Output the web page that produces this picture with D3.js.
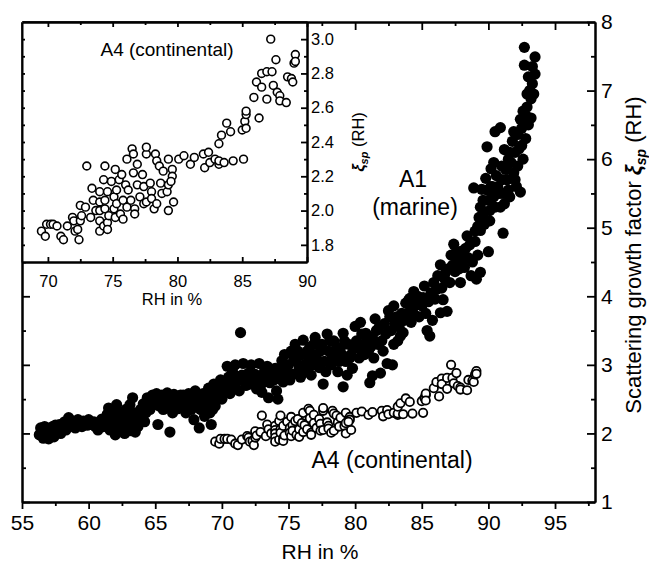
<!DOCTYPE html>
<html>
<head>
<meta charset="utf-8">
<script src="https://cdn.jsdelivr.net/npm/d3@7"></script>
<style>
body { margin: 0; background: #fff; }
text { font-family: "Liberation Sans", Arial, Helvetica, sans-serif; fill: #000; }
</style>
</head>
<body>
<script>
const w = 649
const h = 562

// A1 (marine): [RH in %, xi_sp(RH)]
const a1Points = [
	[56.3,1.98],[56.5,2.04],[56.6,1.93],[56.8,1.97],[56.9,2.07],[57.0,1.92],[57.1,2.0],[57.3,2.1],
	[57.4,1.95],[57.6,2.05],[57.8,2.13],[58.0,2.08],[58.2,2.17],[58.5,2.23],[58.7,2.11],[59.0,2.08],
	[59.3,2.15],[59.6,2.18],[59.9,2.12],[60.2,2.13],[60.5,2.1],[60.8,2.13],[61.0,2.21],[61.3,2.15],
	[61.5,2.37],[61.7,2.24],[61.9,2.1],[62.0,1.98],[62.1,2.42],[62.2,2.15],[62.4,2.3],[62.5,2.05],
	[62.6,2.2],[62.7,2.0],[62.9,2.27],[63.0,2.12],[63.1,2.42],[63.2,2.04],[63.3,2.52],[63.5,2.02],
	[63.7,2.1],[64.0,2.27],[64.1,2.43],[64.2,2.17],[64.5,2.46],[64.8,2.56],[65.0,2.5],[65.2,2.13],
	[65.3,2.4],[65.5,2.56],[65.7,2.46],[65.9,2.59],[66.1,2.02],[66.2,2.52],[66.4,2.57],[66.5,2.44],
	[66.7,2.36],[66.9,2.56],[67.0,2.49],[67.2,2.4],[67.4,2.5],[67.6,2.45],[67.8,2.55],[67.9,2.2],
	[68.0,2.62],[68.2,2.48],[68.3,2.08],[68.4,2.35],[68.6,2.58],[68.7,2.25],[68.8,2.45],[69.0,2.66],
	[69.1,2.3],[69.2,2.13],[69.3,2.52],[69.4,2.72],[69.5,2.4],[69.7,2.6],[69.9,2.78],[70.0,2.5],
	[70.2,2.7],[70.4,2.98],[70.5,2.82],[70.7,2.65],[70.8,2.9],[71.0,3.0],[71.1,2.75],[71.4,3.47],
	[71.5,2.85],[71.6,3.02],[71.8,2.7],[72.0,2.88],[72.2,3.0],[72.3,2.78],[72.5,2.86],[72.8,3.02],
	[73.0,2.8],[73.2,2.91],[73.4,2.98],[73.5,2.52],[73.6,2.74],[73.8,2.86],[74.0,2.95],[74.2,2.5],
	[74.3,2.8],[74.5,3.06],[74.7,3.15],[74.8,2.9],[75.0,3.0],[75.2,3.2],[75.3,2.86],[75.5,3.3],
	[75.6,3.05],[75.8,2.95],[76.0,3.15],[76.1,3.36],[76.3,2.9],[76.5,3.1],[76.6,3.26],[76.8,3.0],
	[77.0,3.4],[77.1,3.15],[77.3,2.96],[77.5,3.3],[77.6,2.72],[77.7,3.05],[77.9,3.45],[78.0,3.2],
	[78.2,3.0],[78.4,3.35],[78.5,3.1],[78.7,2.9],[78.9,3.25],[79.1,2.68],[79.1,3.46],[79.3,3.05],
	[79.5,3.3],[79.7,3.15],[79.8,2.95],[80.0,3.56],[80.1,3.35],[80.3,3.1],[80.4,3.62],[80.6,3.3],
	[80.8,3.46],[81.0,3.2],[81.1,2.74],[81.2,3.27],[81.3,2.84],[81.5,3.67],[81.6,3.5],[81.9,2.88],
	[82.0,3.35],[82.2,3.6],[82.4,3.02],[82.5,3.79],[82.6,3.7],[82.7,3.5],[82.8,3.0],[82.9,3.86],
	[83.0,3.6],[83.2,3.35],[83.4,3.42],[83.5,3.75],[83.6,3.47],[83.8,3.9],[84.0,3.94],[84.1,3.97],
	[84.2,3.62],[84.4,4.07],[84.5,3.72],[84.7,4.0],[85.0,3.86],[85.2,4.15],[85.4,3.5],[85.5,3.92],
	[85.6,3.42],[85.9,4.2],[86.0,3.96],[86.2,4.3],[86.4,3.76],[86.4,4.46],[86.5,4.12],[86.7,4.26],
	[86.9,3.78],[87.0,4.4],[87.2,4.6],[87.4,4.76],[87.5,4.36],[87.7,4.52],[87.9,4.2],[88.0,4.66],
	[88.2,4.42],[88.4,4.88],[88.5,4.56],[88.7,4.3],[88.9,5.58],[89.0,4.8],[89.1,4.25],[89.2,5.02],
	[89.4,4.35],[89.4,4.96],[89.4,5.3],[89.5,5.56],[89.6,5.2],[89.8,5.72],[89.9,6.18],[90.0,4.65],
	[90.0,5.4],[90.1,5.1],[90.2,5.86],[90.3,5.6],[90.5,5.3],[90.5,6.4],[90.6,5.76],[90.8,5.5],
	[90.9,6.46],[91.0,5.9],[91.1,4.92],[91.2,6.14],[91.2,5.35],[91.4,5.7],[91.5,6.0],[91.6,5.45],
	[91.8,6.26],[91.9,5.8],[92.0,6.1],[92.1,5.6],[92.2,6.36],[92.4,5.52],[92.4,6.58],[92.5,6.2],
	[92.6,6.0],[92.7,7.37],[92.7,7.63],[92.9,6.76],[93.0,6.5],[93.1,7.0],[93.2,6.88],[93.3,7.1],
	[93.5,7.24],[93.5,7.49],[92.9,6.62],
	[56.4,2.08],[56.7,2.1],[57.2,1.97],[57.5,2.12],[57.9,2.0],[58.3,2.05],[58.8,2.18],[59.2,2.2],
	[59.5,2.1],[60.0,2.2],[60.4,2.17],[60.7,2.05],[61.1,2.1],[61.4,2.28],[61.6,2.05],[61.8,2.35],
	[62.0,2.2],[62.3,2.25],[62.6,2.1],[62.8,2.35],[63.0,2.2],[63.4,2.3],[63.6,2.2],[63.9,2.35],
	[64.3,2.3],[64.6,2.35],[64.4,2.52],[64.9,2.42],[65.1,2.58],[65.4,2.47],[65.6,2.35],[66.0,2.42],
	[66.3,2.3],[66.6,2.5],[66.8,2.42],[67.1,2.56],[67.3,2.3],[67.5,2.58],[67.7,2.35],[68.1,2.4],
	[68.5,2.45],[68.9,2.55],[69.1,2.62],[69.6,2.5],[69.8,2.68],[69.3,2.35],[68.9,2.38],[70.1,2.6],
	[70.3,2.75],[70.6,2.58],[70.9,2.7],[71.2,2.82],[71.3,2.62],[71.7,2.78],[71.9,2.84],[72.1,2.72],
	[72.4,2.82],[72.7,2.76],[72.9,2.7],[73.1,2.75],[73.3,2.84],[73.7,2.9],[73.9,2.78],[74.1,2.88],
	[74.4,2.95],[74.6,2.75],[74.9,3.0],[74.1,2.62],[73.0,2.6],[72.6,2.65],[75.1,2.78],[75.4,3.1],
	[75.7,3.2],[75.9,2.82],[76.2,3.0],[76.4,3.2],[76.7,2.85],[76.9,3.3],[77.2,3.05],[77.4,3.2],
	[77.8,2.9],[78.1,3.35],[78.3,3.12],[78.6,3.25],[78.8,3.05],[79.0,3.15],[79.2,3.35],[79.4,2.85],
	[79.6,3.1],[79.9,3.25],[80.2,3.25],[80.5,3.45],[80.7,3.15],[80.9,3.35],[81.3,3.4],[81.4,3.1],
	[81.7,3.3],[81.8,3.55],[82.1,3.2],[82.3,3.45],[82.9,3.3],[83.1,3.7],[83.3,3.55],[83.7,3.65],
	[83.9,3.75],[84.3,3.8],[84.6,3.88],[84.8,3.7],[85.1,3.98],[85.3,3.75],[85.7,4.05],[85.8,3.65],
	[86.1,4.1],[86.6,3.95],[86.8,4.35],[87.1,4.2],[87.3,4.45],[87.6,4.65],[87.8,4.4],[88.1,4.55],
	[88.3,4.7],[88.6,4.75],[88.8,4.5],[89.0,4.95],[89.2,4.6],[89.3,5.15],[89.6,5.4],[89.7,5.05],
	[89.9,5.55],[90.1,5.25],[90.2,5.6],[90.4,5.45],[90.4,5.95],[90.7,5.6],[90.9,5.3],[91.0,5.7],
	[91.1,5.5],[91.3,5.85],[91.5,5.55],[91.6,6.1],[91.7,5.95],[91.9,6.4],[92.0,5.7],[92.2,5.9],
	[92.3,6.15],[92.5,6.45],[92.6,6.7],[92.8,6.3],[92.9,6.95],[93.0,7.2],[93.2,6.6],[93.3,7.35],
	[93.4,6.95]
]

// A4 (continental): [RH in %, xi_sp(RH)]
const a4Points = [
	[69.5,1.88],[69.8,1.85],[69.9,1.92],[70.2,1.92],[70.4,1.92],[70.7,1.91],[71.0,1.85],[71.2,1.83],
	[71.5,1.91],[71.9,1.96],[72.0,1.94],[72.1,1.88],[72.3,1.89],[72.4,1.83],[72.5,1.94],[72.5,2.03],
	[72.6,1.97],[72.9,2.02],[73.0,2.26],[73.3,1.96],[73.4,2.13],[73.5,2.06],[73.7,2.0],[74.0,2.11],
	[74.0,2.05],[74.0,2.0],[74.0,1.94],[74.0,1.88],[74.3,1.91],[74.3,2.18],[74.4,2.26],[74.4,2.06],
	[74.4,2.01],[74.6,2.11],[74.6,1.93],[74.6,1.89],[74.7,1.97],[74.9,2.17],[75.1,2.08],[75.1,2.01],
	[75.2,2.24],[75.2,1.96],[75.3,2.12],[75.3,2.04],[75.5,2.18],[75.6,1.98],[75.7,2.21],[75.8,2.06],
	[75.8,1.95],[76.0,2.15],[76.1,2.3],[76.1,2.02],[76.2,2.12],[76.4,2.06],[76.5,2.36],[76.6,2.33],
	[76.6,2.22],[76.7,2.01],[76.7,1.98],[76.9,2.27],[76.9,2.15],[77.1,2.08],[77.3,2.21],[77.4,2.14],
	[77.4,2.04],[77.6,2.33],[77.6,2.05],[77.6,2.37],[77.9,2.16],[78.0,2.11],[78.0,2.07],[78.2,2.01],
	[78.3,2.33],[78.4,2.29],[78.4,2.04],[78.6,2.26],[78.7,2.16],[78.8,2.1],[78.9,2.23],[79.2,2.11],
	[79.3,2.3],[79.3,2.15],[79.3,2.0],[79.6,2.24],[79.6,2.2],[79.5,2.17],[79.7,2.05],[80.1,2.3],
	[80.5,2.32],[81.0,2.27],[81.3,2.31],[82.0,2.33],[82.1,2.25],[82.4,2.34],[82.5,2.28],[82.9,2.3],
	[83.2,2.27],[83.2,2.29],[83.2,2.39],[83.4,2.44],[83.6,2.28],[83.8,2.51],[84.1,2.46],[84.3,2.29],
	[85.0,2.47],[85.1,2.3],[85.2,2.52],[85.3,2.56],[85.3,2.58],[85.3,2.48],[85.9,2.66],[86.1,2.75],
	[86.3,2.54],[86.5,2.8],[86.5,2.72],[86.9,2.81],[86.9,2.65],[87.2,3.0],[87.3,2.81],[87.4,2.73],
	[87.6,2.88],[87.7,2.69],[87.9,2.67],[87.9,2.64],[88.4,2.63],[88.5,2.78],[88.8,2.77],[88.9,2.75],
	[89.0,2.86],[89.1,2.91],[89.1,2.87]
]

const mainXTicks = [55, 60, 65, 70, 75, 80, 85, 90, 95]
const mainXMinor = [57.5, 62.5, 67.5, 72.5, 77.5, 82.5, 87.5, 92.5, 97.5]
const mainYTicks = [1, 2, 3, 4, 5, 6, 7, 8]
const mainYMinor = [1.5, 2.5, 3.5, 4.5, 5.5, 6.5, 7.5]
const insetXTicks = [70, 75, 80, 85, 90]
const insetXMinor = [72.5, 77.5, 82.5, 87.5]
const insetYTicks = [1.8, 2.0, 2.2, 2.4, 2.6, 2.8, 3.0]
const insetYMinor = [1.9, 2.1, 2.3, 2.5, 2.7, 2.9]

const svg = d3.select("body").append("svg")
	.attr("width", w)
	.attr("height", h)

let x = d3.scaleLinear().domain([55, 98]).range([22, 595])
let y = d3.scaleLinear().domain([1, 8]).range([502, 22])

// main scatter
svg.append("g").selectAll("circle")
	.data(a1Points)
	.join("circle")
	.attr("cx", d => x(d[0]))
	.attr("cy", d => y(d[1]))
	.attr("r", 5.6)
	.attr("fill", "black")

svg.append("g").selectAll("circle")
	.data(a4Points)
	.join("circle")
	.attr("cx", d => x(d[0]))
	.attr("cy", d => y(d[1]))
	.attr("r", 4.2)
	.attr("fill", "white")
	.attr("stroke", "black")
	.attr("stroke-width", 1.8)

let styleAxis = function(g, fontSize) {
	g.select(".domain").attr("stroke-width", 2)
	g.selectAll(".tick line").attr("stroke-width", 1.8)
	g.selectAll(".tick text")
		.attr("font-size", fontSize)
		.attr("font-family", "Liberation Sans, Arial, sans-serif")
}

// bottom axis (ticks outward)
svg.append("g")
	.attr("transform", "translate(0," + y.range()[0] + ")")
	.call(d3.axisBottom(x).tickValues(mainXMinor).tickSize(4).tickSizeOuter(0).tickFormat(""))
	.call(g => styleAxis(g, 21))
svg.append("g")
	.attr("transform", "translate(0," + y.range()[0] + ")")
	.call(d3.axisBottom(x).tickValues(mainXTicks).tickSize(7).tickSizeOuter(0).tickPadding(6).tickFormat(d3.format("d")))
	.call(g => styleAxis(g, 21))

// top axis (ticks inward)
svg.append("g")
	.attr("transform", "translate(0," + y.range()[1] + ")")
	.call(d3.axisBottom(x).tickValues(mainXMinor).tickSize(4).tickSizeOuter(0).tickFormat(""))
	.call(g => styleAxis(g, 21))
svg.append("g")
	.attr("transform", "translate(0," + y.range()[1] + ")")
	.call(d3.axisBottom(x).tickValues(mainXTicks).tickSize(8).tickSizeOuter(0).tickFormat(""))
	.call(g => styleAxis(g, 21))

// left axis (ticks inward, no labels)
svg.append("g")
	.attr("transform", "translate(" + x.range()[0] + ",0)")
	.call(d3.axisRight(y).tickValues(mainYMinor).tickSize(4).tickSizeOuter(0).tickFormat(""))
	.call(g => styleAxis(g, 21))
svg.append("g")
	.attr("transform", "translate(" + x.range()[0] + ",0)")
	.call(d3.axisRight(y).tickValues(mainYTicks).tickSize(8).tickSizeOuter(0).tickFormat(""))
	.call(g => styleAxis(g, 21))

// right axis (ticks inward, labels outside)
svg.append("g")
	.attr("transform", "translate(" + x.range()[1] + ",0)")
	.call(d3.axisLeft(y).tickValues(mainYMinor).tickSize(4).tickSizeOuter(0).tickFormat(""))
	.call(g => styleAxis(g, 21))
svg.append("g")
	.attr("transform", "translate(" + x.range()[1] + ",0)")
	.call(d3.axisLeft(y).tickValues(mainYTicks).tickSize(8).tickSizeOuter(0).tickFormat(""))
	.call(g => styleAxis(g, 21))
svg.append("g")
	.attr("transform", "translate(" + x.range()[1] + ",0)")
	.call(d3.axisRight(y).tickValues(mainYTicks).tickSize(0).tickPadding(6).tickFormat(d3.format("d")))
	.call(g => styleAxis(g, 21))
	.call(g => g.select(".domain").remove())

// axis titles
svg.append("text")
	.attr("x", 320)
	.attr("y", 559)
	.attr("text-anchor", "middle")
	.attr("font-size", 21)
	.text("RH in %")

let yTitle = svg.append("text")
	.attr("transform", "translate(641,255) rotate(-90)")
	.attr("text-anchor", "middle")
	.attr("font-size", 22)
yTitle.append("tspan").text("Scattering growth factor ")
yTitle.append("tspan").attr("font-style", "italic").attr("font-weight", "bold").text("ξ")
yTitle.append("tspan").attr("font-style", "italic").attr("font-weight", "bold")
	.attr("font-size", 14).attr("dy", 5).text("sp")
yTitle.append("tspan").attr("dy", -5).text(" (RH)")

// annotations
svg.append("text").attr("x", 413).attr("y", 187).attr("text-anchor", "middle")
	.attr("font-size", 23).text("A1")
svg.append("text").attr("x", 415).attr("y", 215).attr("text-anchor", "middle")
	.attr("font-size", 23).text("(marine)")
svg.append("text").attr("x", 392).attr("y", 468).attr("text-anchor", "middle")
	.attr("font-size", 23).text("A4 (continental)")

// ---------------- inset ----------------
let ix = d3.scaleLinear().domain([68, 90]).range([22, 307])
let iy = d3.scaleLinear().domain([1.7, 3.1]).range([262, 22])

svg.append("rect")
	.attr("x", ix.range()[0])
	.attr("y", iy.range()[1])
	.attr("width", ix.range()[1] - ix.range()[0])
	.attr("height", iy.range()[0] - iy.range()[1])
	.attr("fill", "white")

svg.append("g").selectAll("circle")
	.data(a4Points)
	.join("circle")
	.attr("cx", d => ix(d[0]))
	.attr("cy", d => iy(d[1]))
	.attr("r", 3.9)
	.attr("fill", "white")
	.attr("stroke", "black")
	.attr("stroke-width", 1.6)

// inset bottom
svg.append("g")
	.attr("transform", "translate(0," + iy.range()[0] + ")")
	.call(d3.axisTop(ix).tickValues(insetXMinor).tickSize(3).tickSizeOuter(0).tickFormat(""))
	.call(g => styleAxis(g, 16.5))
svg.append("g")
	.attr("transform", "translate(0," + iy.range()[0] + ")")
	.call(d3.axisTop(ix).tickValues(insetXTicks).tickSize(5).tickSizeOuter(0).tickFormat(""))
	.call(g => styleAxis(g, 16.5))
svg.append("g")
	.attr("transform", "translate(0," + iy.range()[0] + ")")
	.call(d3.axisBottom(ix).tickValues(insetXTicks).tickSize(0).tickPadding(13).tickFormat(d3.format("d")))
	.call(g => styleAxis(g, 16.5))
	.call(g => g.select(".domain").remove())

// inset top
svg.append("g")
	.attr("transform", "translate(0," + iy.range()[1] + ")")
	.call(d3.axisBottom(ix).tickValues(insetXMinor).tickSize(3).tickSizeOuter(0).tickFormat(""))
	.call(g => styleAxis(g, 16.5))
svg.append("g")
	.attr("transform", "translate(0," + iy.range()[1] + ")")
	.call(d3.axisBottom(ix).tickValues(insetXTicks).tickSize(5).tickSizeOuter(0).tickFormat(""))
	.call(g => styleAxis(g, 16.5))

// inset left
svg.append("g")
	.attr("transform", "translate(" + ix.range()[0] + ",0)")
	.call(d3.axisRight(iy).tickValues(insetYTicks.concat(insetYMinor)).tickSize(3).tickSizeOuter(0).tickFormat(""))
	.call(g => styleAxis(g, 16.5))

// inset right
svg.append("g")
	.attr("transform", "translate(" + ix.range()[1] + ",0)")
	.call(d3.axisLeft(iy).tickValues(insetYMinor).tickSize(3).tickSizeOuter(0).tickFormat(""))
	.call(g => styleAxis(g, 16.5))
svg.append("g")
	.attr("transform", "translate(" + ix.range()[1] + ",0)")
	.call(d3.axisLeft(iy).tickValues(insetYTicks).tickSize(6).tickSizeOuter(0).tickFormat(""))
	.call(g => styleAxis(g, 16.5))
svg.append("g")
	.attr("transform", "translate(" + ix.range()[1] + ",0)")
	.call(d3.axisRight(iy).tickValues(insetYTicks).tickSize(0).tickPadding(4).tickFormat(d3.format(".1f")))
	.call(g => styleAxis(g, 16.5))
	.call(g => g.select(".domain").remove())

svg.append("text")
	.attr("x", 172)
	.attr("y", 305)
	.attr("text-anchor", "middle")
	.attr("font-size", 16.5)
	.text("RH in %")

svg.append("text")
	.attr("x", 167)
	.attr("y", 56)
	.attr("text-anchor", "middle")
	.attr("font-size", 19)
	.text("A4 (continental)")

let iyTitle = svg.append("text")
	.attr("transform", "translate(364,142) rotate(-90)")
	.attr("text-anchor", "middle")
	.attr("font-size", 16.5)
iyTitle.append("tspan").attr("font-style", "italic").attr("font-weight", "bold").text("ξ")
iyTitle.append("tspan").attr("font-style", "italic").attr("font-weight", "bold")
	.attr("font-size", 11).attr("dy", 4).text("sp")
iyTitle.append("tspan").attr("dy", -4).text(" (RH)")
</script>
</body>
</html>
